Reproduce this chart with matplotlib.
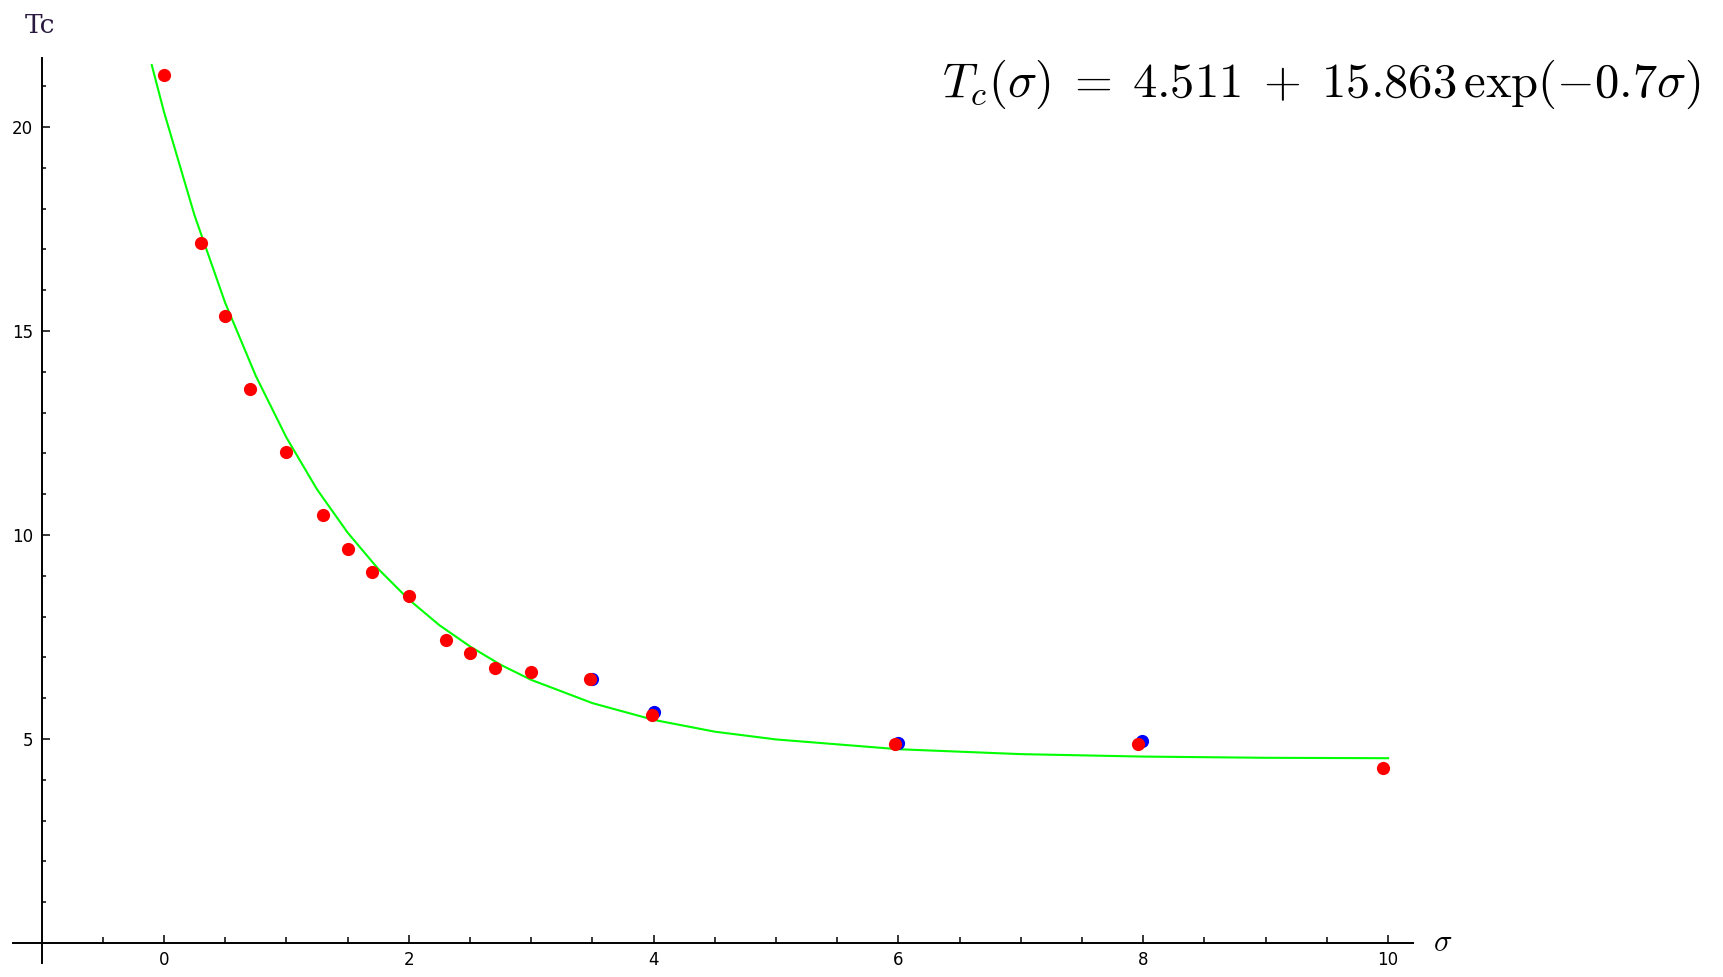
#Tc versus sigma with exponential fit
import numpy as np	#arrays
import matplotlib
matplotlib.use('Agg')
import matplotlib.pyplot as plt	#to plot
from matplotlib.ticker import FixedLocator

###################################################################
#data
sigma_red = [0.0, 0.3, 0.5, 0.7, 1.0, 1.3, 1.5, 1.7, 2.0, 2.3, 2.5, 2.7, 3.0, 3.48, 3.99, 5.97, 7.96, 9.96]
tc_red = [21.27, 17.17, 15.36, 13.58, 12.04, 10.50, 9.67, 9.10, 8.51, 7.43, 7.11, 6.73, 6.65, 6.47, 5.60, 4.87, 4.88, 4.29]

sigma_blue = [3.50, 4.00, 6.00, 7.99]
tc_blue = [6.47, 5.67, 4.90, 4.95]

#fit curve
sigma_fit = [-0.1, 0.0, 0.25, 0.5, 0.75, 1.0, 1.25, 1.5, 1.75, 2.0, 2.25, 2.5, 2.75, 3.0, 3.5, 4.0, 4.5, 5.0, 6.0, 7.0, 8.0, 9.0, 10.0]
tc_fit = [21.52, 20.37, 17.83, 15.69, 13.90, 12.39, 11.12, 10.06, 9.17, 8.42, 7.79, 7.27, 6.82, 6.45, 5.88, 5.47, 5.18, 4.99, 4.75, 4.63, 4.57, 4.54, 4.53]

formula = r'$T_c(\sigma)\;=\;4.511\;+\;15.863\,\exp(-0.7\sigma)$'

x_major = [0, 2, 4, 6, 8, 10]
x_minor = [-0.5, 0.5, 1, 1.5, 2.5, 3, 3.5, 4.5, 5, 5.5, 6.5, 7, 7.5, 8.5, 9, 9.5]
y_major = [5, 10, 15, 20]
y_minor = [1, 2, 3, 4, 6, 7, 8, 9, 11, 12, 13, 14, 16, 17, 18, 19, 21]

####################################################
plt.rcParams['mathtext.fontset'] = 'cm'
fig = plt.figure(figsize=(17.23, 9.77), dpi=100)
ax = fig.add_axes([0.00638, 0.00972, 0.8170, 0.9354])
ax.set_xlim(-1.25, 10.25)
ax.set_ylim(-0.6, 21.8)

ax.plot(sigma_fit, tc_fit, color=(0, 1, 0), lw=1.5, zorder=2)
ax.plot(sigma_blue, tc_blue, 'o', color=(0, 0, 1), ms=9.5, mew=0, zorder=3)
ax.plot(sigma_red, tc_red, 'o', color=(1, 0, 0), ms=9.5, mew=0, zorder=4)

#mathematica style axes crossing at (-1, 0)
for s in ['top', 'right']:
    ax.spines[s].set_visible(False)
ax.spines['left'].set_position(('data', -1))
ax.spines['bottom'].set_position(('data', 0))
ax.spines['left'].set_bounds(-0.5, 21.7)
ax.spines['bottom'].set_bounds(-1.23, 10.2)
for s in ['left', 'bottom']:
    ax.spines[s].set_linewidth(1.4)

ax.xaxis.set_major_locator(FixedLocator(x_major))
ax.xaxis.set_minor_locator(FixedLocator(x_minor))
ax.yaxis.set_major_locator(FixedLocator(y_major))
ax.yaxis.set_minor_locator(FixedLocator(y_minor))
ax.tick_params(which='both', direction='in', width=1.1, colors='black')
ax.tick_params(axis='x', which='major', length=6, pad=6, labelsize=12)
ax.tick_params(axis='x', which='minor', length=4)
ax.tick_params(axis='y', which='major', length=6, pad=6, labelsize=12)
ax.tick_params(axis='y', which='minor', length=3)

fig.text(0.0145, 1 - 33/977, 'Tc', family='DejaVu Serif', fontsize=19, color='#2a1a40', va='baseline')
ax.text(10.37, 0, r'$\sigma$', fontsize=22, va='center', ha='left')
fig.text(0.987, 1 - 97/977, formula, fontsize=35, ha='right', va='baseline')

fig.savefig('out.png', dpi=100)
